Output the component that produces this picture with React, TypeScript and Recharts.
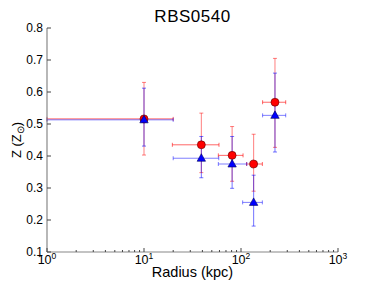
import React from 'react';
import { ScatterChart, Scatter, XAxis, YAxis, ErrorBar } from 'recharts';

// Radius (kpc) of each bin
const radius = [10, 39, 81, 135, 224];
// Radial bin extents (kpc)
const redRLow = [1, 19.6, 58.4, 114, 167];
const redRHigh = [20, 59.3, 105, 166, 289];
const blueRLow = [1, 20, 58.4, 104, 167];
const blueRHigh = [20, 59, 115, 166, 289];
// Red series: Z (Zsun) and bounds
const redZ = [0.516, 0.435, 0.402, 0.375, 0.568];
const redZLow = [0.403, 0.348, 0.321, 0.29, 0.427];
const redZHigh = [0.63, 0.534, 0.492, 0.468, 0.705];
// Blue series
const blueZ = [0.513, 0.393, 0.375, 0.255, 0.527];
const blueZLow = [0.431, 0.332, 0.299, 0.181, 0.4125];
const blueZHigh = [0.612, 0.461, 0.461, 0.34, 0.659];

const xMajor = [1, 10, 100, 1000];
const xMinor = [2, 3, 4, 5, 6, 7, 8, 9, 20, 30, 40, 50, 60, 70, 80, 90, 200, 300, 400, 500, 600, 700, 800, 900];
const yTicks = [0.1, 0.2, 0.3, 0.4, 0.5, 0.6, 0.7, 0.8];

const build = (z: number[], zl: number[], zh: number[], rl: number[], rh: number[]) =>
  radius.map((r, i) => ({
    r,
    z: z[i],
    xErr: [r - rl[i], rh[i] - r],
    yErr: [z[i] - zl[i], zh[i] - z[i]],
  }));

const redData = build(redZ, redZLow, redZHigh, redRLow, redRHigh);
const blueData = build(blueZ, blueZLow, blueZHigh, blueRLow, blueRHigh);

const FONT = '"Liberation Sans", Arial, sans-serif';
const TICK_COLOR = '#444';
const allX = [...xMajor, ...xMinor].sort((a, b) => a - b);

const BottomTick = (props: any) => {
  const { x, y, payload } = props;
  const v = payload.value;
  const major = xMajor.includes(v);
  const exp = Math.round(Math.log10(v));
  return (
    <g>
      <line x1={x} x2={x} y1={y} y2={y - (major ? 4 : 2)} stroke={TICK_COLOR} strokeWidth={1} />
      {major && (
        <text x={x} y={y + 12} textAnchor="middle" fontFamily={FONT} fontSize={12.5} fill="#000">
          10
          <tspan dy={-5} fontSize={8.5}>{exp}</tspan>
        </text>
      )}
    </g>
  );
};

const TopTick = (props: any) => {
  const { x, y, payload } = props;
  const major = xMajor.includes(payload.value);
  return <line x1={x} x2={x} y1={y} y2={y + (major ? 4 : 2)} stroke={TICK_COLOR} strokeWidth={1} />;
};

const LeftTick = (props: any) => {
  const { x, y, payload } = props;
  return (
    <g>
      <line x1={x} x2={x + 4} y1={y} y2={y} stroke={TICK_COLOR} strokeWidth={1} />
      <text x={x - 4} y={y + 4} textAnchor="end" fontFamily={FONT} fontSize={12} fill="#000">
        {Number(payload.value).toFixed(1)}
      </text>
    </g>
  );
};

const RightTick = (props: any) => {
  const { x, y } = props;
  return <line x1={x} x2={x - 4} y1={y} y2={y} stroke={TICK_COLOR} strokeWidth={1} />;
};

const Circle = (props: any) => {
  const { cx, cy } = props;
  if (cx == null || cy == null) return null;
  return <circle cx={cx} cy={cy} r={4} fill="#ff0000" stroke="#5a0000" strokeWidth={0.6} />;
};

const Triangle = (props: any) => {
  const { cx, cy } = props;
  if (cx == null || cy == null) return null;
  return (
    <polygon
      points={`${cx},${cy - 4.5} ${cx - 4.2},${cy + 3} ${cx + 4.2},${cy + 3}`}
      fill="#0000ff"
      stroke="#00005a"
      strokeWidth={0.6}
    />
  );
};

const XLabel = (props: any) => {
  const { viewBox } = props;
  return (
    <text x={viewBox.x + viewBox.width / 2} y={viewBox.y + 25} textAnchor="middle" fontFamily={FONT} fontSize={14.5} fill="#000">
      Radius (kpc)
    </text>
  );
};

const YLabel = (props: any) => {
  const { viewBox } = props;
  const cx = 21;
  const cy = viewBox.y + viewBox.height / 2;
  return (
    <text x={cx} y={cy} transform={`rotate(-90 ${cx} ${cy})`} textAnchor="middle" fontFamily={FONT} fontSize={13} fill="#000">
      Z (Z
      <tspan dy={3} fontSize={10}>⊙</tspan>
      <tspan dy={-3}>)</tspan>
    </text>
  );
};

export default function App() {
  return (
    <div style={{ position: 'absolute', left: 0, top: 0, width: 375, height: 281, background: '#fff' }}>
      <div
        style={{
          position: 'absolute',
          left: 47,
          width: 291,
          top: 7,
          textAlign: 'center',
          fontFamily: FONT,
          fontSize: 17,
          letterSpacing: '0.5px',
          lineHeight: '19px',
          color: '#000',
        }}
      >
        RBS0540
      </div>
      <ScatterChart width={375} height={281} margin={{ top: 28, right: 37, bottom: 0, left: 0 }}>
        <XAxis
          xAxisId="b"
          dataKey="r"
          type="number"
          scale="log"
          domain={[1, 1000]}
          allowDataOverflow
          ticks={allX}
          interval={0}
          height={29}
          tickSize={0}
          tickMargin={0}
          tick={<BottomTick />}
          axisLine={{ stroke: '#888', strokeWidth: 1.2 }}
          label={<XLabel />}
        />
        <XAxis
          xAxisId="t"
          orientation="top"
          type="number"
          scale="log"
          domain={[1, 1000]}
          allowDataOverflow
          ticks={allX}
          interval={0}
          height={0}
          tickSize={0}
          tickMargin={0}
          tick={<TopTick />}
          axisLine={{ stroke: '#888', strokeWidth: 1.2 }}
        />
        <YAxis
          yAxisId="l"
          dataKey="z"
          type="number"
          domain={[0.1, 0.8]}
          allowDataOverflow
          ticks={yTicks}
          interval={0}
          width={47}
          tickSize={0}
          tickMargin={0}
          tick={<LeftTick />}
          axisLine={{ stroke: '#888', strokeWidth: 1.2 }}
          label={<YLabel />}
        />
        <YAxis
          yAxisId="r"
          orientation="right"
          type="number"
          domain={[0.1, 0.8]}
          allowDataOverflow
          ticks={yTicks}
          interval={0}
          width={0}
          tickSize={0}
          tickMargin={0}
          tick={<RightTick />}
          axisLine={{ stroke: '#222', strokeWidth: 1.2 }}
        />
        <Scatter xAxisId="b" yAxisId="l" data={redData} shape={<Circle />} isAnimationActive={false}>
          <ErrorBar dataKey="yErr" direction="y" width={2} stroke="#ff0000" strokeOpacity={0.5} strokeWidth={1} />
          <ErrorBar dataKey="xErr" direction="x" width={2} stroke="#ff0000" strokeOpacity={0.6} strokeWidth={1} />
        </Scatter>
        <Scatter xAxisId="b" yAxisId="l" data={blueData} shape={<Triangle />} isAnimationActive={false}>
          <ErrorBar dataKey="yErr" direction="y" width={2} stroke="#0000ff" strokeOpacity={0.55} strokeWidth={1} />
          <ErrorBar dataKey="xErr" direction="x" width={2} stroke="#0000ff" strokeOpacity={0.5} strokeWidth={1} />
        </Scatter>
      </ScatterChart>
    </div>
  );
}
